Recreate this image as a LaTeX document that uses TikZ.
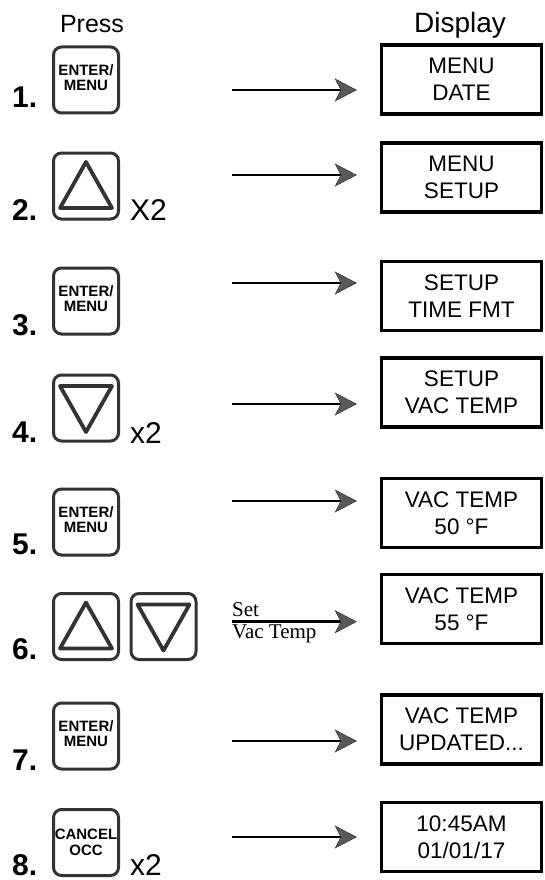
\documentclass[tikz,border=0pt]{standalone}
\usepackage{fontspec}
\setmainfont{Liberation Sans}
\newfontfamily\timesfont{Liberation Serif}
\usetikzlibrary{arrows.meta}
\definecolor{keygray}{HTML}{333333}

\begin{document}
\begin{tikzpicture}[x=1pt,y=-1pt,
	key/.style={draw=keygray,line width=3pt,rounded corners=8pt,minimum width=65pt,minimum height=66pt,inner sep=0pt,align=center,font=\bfseries\fontsize{15}{16}\selectfont},
	tri/.style={draw=keygray,line width=3.8pt,line join=round},
	lcd/.style={draw,line width=3.5pt,minimum width=160pt,minimum height=69pt,inner sep=0pt,align=center,font=\fontsize{22.5}{27}\selectfont},
	stepno/.style={anchor=base west,inner sep=0pt,font=\bfseries\fontsize{30}{30}\selectfont},
	timesno/.style={anchor=base west,inner sep=0pt,font=\fontsize{30}{30}\selectfont},
	flow/.style={line width=2.8pt,shorten >=23pt,-{Stealth[length=22pt,width=23pt,inset=6pt,line width=0.4pt,color=black!85,fill=black!65]}}
]
\useasboundingbox (0,0) rectangle (545,880);
%%% Column headings
\node[font=\fontsize{25}{25}\selectfont,anchor=base,inner sep=0pt] (press) at (92,33) {Press};
\node[font=\fontsize{28}{28}\selectfont,anchor=base,inner sep=0pt] (display) at (460,33) {Display};
%%% Display boxes with arrows
\foreach \i/\yb/\ya/\txt in {1/79.5/90/{MENU\\DATE}, 2/177.5/175/{MENU\\SETUP},
	3/296/283/{SETUP\\TIME FMT}, 4/392.5/404/{SETUP\\VAC TEMP},
	5/513/501/{VAC TEMP\\50 °F}, 6/609/621.7/{VAC TEMP\\55 °F},
	7/729.5/741/{VAC TEMP\\UPDATED...}, 8/837/837/{10:45AM\\01/01/17}}
{
	\node[lcd] (lcd\i) at (461.5,\yb) {\txt};
	\coordinate (arr\i) at (232,\ya);
	\draw[flow] (arr\i) -- (arr\i -| lcd\i.west);
}
\node[anchor=base west,inner sep=0pt,font=\timesfont\fontsize{21}{21}\selectfont] (set) at (232,616) {Set};
\node[anchor=base west,inner sep=0pt,font=\timesfont\fontsize{21}{21}\selectfont] (vactemp) at (232,638) {Vac Temp};
%%% ENTER/MENU keys
\foreach \i/\yk in {1/80,3/301,5/522,7/736}
{
	\node[key] (key\i) at (86,\yk) {\raisebox{3pt}{\begin{tabular}{@{}c@{}}ENTER/\\[-1pt]MENU\end{tabular}}};
}
%%% Up and down keys
\node[key] (key2) at (86,186) {};
\node[key] (key4) at (86,408) {};
\node[key] (key6a) at (86,626.5) {};
\node[key] (key6b) at (163.5,626.5) {};
\foreach \k/\s in {key2/1, key4/-1, key6a/1, key6b/-1}
{
	\draw[tri] ([shift={(0,-24*\s)}]\k.center) -- ([shift={(26,22*\s)}]\k.center)
		-- ([shift={(-26,22*\s)}]\k.center) -- cycle;
}
%%% CANCEL/OCC key
\node[key] (key8) at (86,842.5) {CANCEL\\OCC};
%%% Step numbers and repeat counts
\foreach \i/\yn in {1/108,2/220,3/335,4/442,5/554,6/659,7/770,8/875}
{
	\node[stepno] (no\i) at (12,\yn) {\i.};
}
\node[timesno] (rep2) at (130,220) {X2};
\node[timesno] (rep4) at (130,443) {x2};
\node[timesno] (rep8) at (130,875) {x2};
\end{tikzpicture}
\end{document}
